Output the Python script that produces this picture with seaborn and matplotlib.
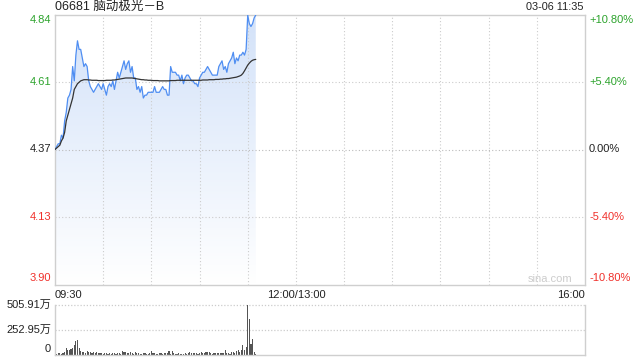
import numpy as np
import pandas as pd
import matplotlib
matplotlib.use("Agg")
import matplotlib.pyplot as plt
from matplotlib.colors import LinearSegmentedColormap
import seaborn as sns

# ---------------- data ----------------
title = "06681 脑动极光－B"
stamp = "03-06 11:35"
base_price = 4.37
left_labels = ["4.84", "4.61", "4.37", "4.13", "3.90"]
right_labels = ["+10.80%", "+5.40%", "0.00%", "-5.40%", "-10.80%"]
pct_levels = [10.8, 5.4, 0.0, -5.4, -10.8]
time_labels = ["09:30", "12:00/13:00", "16:00"]
time_label_minutes = [0, 150, 330]
vol_labels = ["505.91万", "252.95万", "0"]
vol_levels = [505.91, 252.95, 0]

price = [
    4.37, 4.38, 4.39, 4.39, 4.42, 4.41, 4.47, 4.50, 4.55, 4.56,
    4.58, 4.66, 4.61, 4.70, 4.75, 4.72, 4.72, 4.69, 4.66, 4.67,
    4.66, 4.61, 4.59, 4.58, 4.57, 4.58, 4.59, 4.60, 4.59, 4.58,
    4.60, 4.58, 4.56, 4.59, 4.60, 4.59, 4.61, 4.58, 4.61, 4.64,
    4.62, 4.64, 4.66, 4.68, 4.65, 4.67, 4.68, 4.64, 4.66, 4.62,
    4.62, 4.58, 4.59, 4.57, 4.59, 4.55, 4.56, 4.56, 4.57, 4.57,
    4.57, 4.57, 4.59, 4.57, 4.57, 4.57, 4.58, 4.59, 4.58, 4.58,
    4.56, 4.56, 4.66, 4.64, 4.64, 4.64, 4.63, 4.63, 4.61, 4.63,
    4.60, 4.62, 4.63, 4.63, 4.62, 4.61, 4.61, 4.60, 4.60, 4.59,
    4.62, 4.63, 4.64, 4.64, 4.65, 4.66, 4.65, 4.64, 4.63, 4.63,
    4.63, 4.63, 4.66, 4.67, 4.68, 4.65, 4.66, 4.64, 4.67, 4.68,
    4.69, 4.71, 4.67, 4.69, 4.68, 4.70, 4.70, 4.71, 4.70, 4.72,
    4.84, 4.81, 4.80, 4.81, 4.83, 4.84,
]

avg_price = [
    4.370, 4.375, 4.380, 4.385, 4.400, 4.410, 4.430, 4.470, 4.490, 4.510,
    4.530, 4.550, 4.580, 4.590, 4.600, 4.605, 4.610, 4.612, 4.614, 4.614,
    4.614, 4.613, 4.613, 4.612, 4.612, 4.612, 4.612, 4.611, 4.611, 4.611,
    4.611, 4.611, 4.612, 4.612, 4.612, 4.612, 4.613, 4.613, 4.614, 4.615,
    4.616, 4.617, 4.618, 4.619, 4.620, 4.620, 4.620, 4.620, 4.620, 4.619,
    4.618, 4.617, 4.616, 4.615, 4.614, 4.614, 4.613, 4.613, 4.612, 4.612,
    4.612, 4.611, 4.611, 4.611, 4.611, 4.610, 4.610, 4.610, 4.610, 4.610,
    4.610, 4.610, 4.611, 4.611, 4.611, 4.611, 4.612, 4.612, 4.612, 4.612,
    4.612, 4.612, 4.612, 4.612, 4.612, 4.612, 4.612, 4.612, 4.612, 4.612,
    4.612, 4.612, 4.613, 4.613, 4.613, 4.613, 4.614, 4.614, 4.614, 4.614,
    4.615, 4.615, 4.615, 4.616, 4.616, 4.617, 4.617, 4.618, 4.618, 4.619,
    4.620, 4.621, 4.622, 4.623, 4.625, 4.627, 4.630, 4.636, 4.645, 4.655,
    4.665, 4.672, 4.678, 4.682, 4.684, 4.685,
]

volume = [
    15, 10, 12, 15, 8, 20, 25, 65, 45, 50,
    60, 70, 95, 140, 145, 70, 40, 30, 25, 20,
    35, 25, 30, 20, 25, 18, 22, 15, 12, 18,
    10, 14, 12, 8, 15, 10, 12, 20, 10, 12,
    15, 10, 40, 25, 30, 12, 20, 28, 15, 10,
    30, 12, 15, 10, 8, 20, 12, 10, 8, 15,
    40, 12, 20, 8, 10, 12, 15, 10, 12, 20,
    12, 40, 8, 40, 20, 8, 10, 12, 10, 8,
    10, 12, 8, 15, 25, 12, 20, 18, 15, 10,
    12, 25, 12, 20, 24, 22, 24, 15, 10, 12,
    20, 12, 15, 18, 12, 20, 41, 15, 12, 10,
    25, 30, 20, 31, 41, 25, 46, 100, 45, 75,
    505.91, 361, 110, 162, 30, 10,
]

minutes = list(range(len(price)))

# ---------------- style ----------------
sns.set_style("white")
plt.rcParams["font.family"] = ["Liberation Sans", "Noto Sans CJK SC", "DejaVu Sans"]

GREEN = "#2ca32c"
RED = "#f0302b"
DARK = "#222222"
GRID = "#cccccc"
SPINE = "#cfcfcf"
BLUE = "#4f8ef2"
FS = 8

ymin = base_price * (1 - 0.108)
ymax = base_price * (1 + 0.108)
levels = [base_price * (1 + p / 100) for p in pct_levels]

fig = plt.figure(figsize=(6.4, 3.6), dpi=100)
ax = fig.add_axes([55 / 640, 1 - 284.5 / 360, 530 / 640, 270 / 360])
axv = fig.add_axes([55 / 640, 1 - 354.5 / 360, 530 / 640, 49.5 / 360])

df = pd.DataFrame({"minute": minutes, "price": price, "avg": avg_price, "vol": volume})

# ---- price panel ----
ax.set_xlim(0, 330)
ax.set_ylim(ymin, ymax)

# gradient fill under the price line
poly = ax.fill_between(df["minute"], df["price"], ymin, color="none", linewidth=0)
cmap = LinearSegmentedColormap.from_list("g", ["#ffffff", "#d3e2f9"])
grad = np.linspace(0, 1, 256).reshape(-1, 1)
img = ax.imshow(grad, extent=[0, max(minutes), ymin, ymax], origin="lower",
                aspect="auto", cmap=cmap, zorder=1)
img.set_clip_path(poly.get_paths()[0], transform=ax.transData)
ax.set_xlim(0, 330)
ax.set_ylim(ymin, ymax)

# grid
for m in range(30, 330, 30):
    ax.axvline(m, color=GRID, lw=0.8, ls=(0, (1, 2)), zorder=2)
for lv in levels[1:4]:
    ax.axhline(lv, color=GRID if lv != base_price else "#bbbbbb", lw=0.8,
               ls=(0, (1, 2)), zorder=2)

sns.lineplot(data=df, x="minute", y="price", ax=ax, color=BLUE, lw=0.9, zorder=4)
sns.lineplot(data=df, x="minute", y="avg", ax=ax, color="#333333", lw=0.9, zorder=5)

ax.set_xlabel("")
ax.set_ylabel("")
ax.set_xticks([])
ax.set_yticks([])
for s in ax.spines.values():
    s.set_color(SPINE)
    s.set_linewidth(1.0)

# y labels
lab_colors = [GREEN, GREEN, DARK, RED, RED]
yt = ax.get_yaxis_transform()
for i, (lv, lt, rt, c) in enumerate(zip(levels, left_labels, right_labels, lab_colors)):
    off = 0
    if i == 0:
        off = -5.5
    elif i == 4:
        off = 6.5
    ax.annotate(lt, xy=(0, lv), xycoords=yt, xytext=(-4, off), textcoords="offset pixels",
                ha="right", va="center", fontsize=FS, color=c)
    ax.annotate(rt, xy=(1, lv), xycoords=yt, xytext=(4, off), textcoords="offset pixels",
                ha="left", va="center", fontsize=FS, color=c)

# x labels
xt = ax.get_xaxis_transform()
for m, t, ha in zip(time_label_minutes, time_labels, ["left", "center", "right"]):
    ax.annotate(t, xy=(m, 0), xycoords=xt, xytext=(0, -11), textcoords="offset pixels",
                ha=ha, va="center", fontsize=FS, color=DARK)

# title and stamp
fig.text(55 / 640, 1 - 7 / 360, title, ha="left", va="center", fontsize=9, color=DARK)
fig.text(584 / 640, 1 - 7 / 360, stamp, ha="right", va="center", fontsize=7.8, color=DARK)
ax.text(0.977, 0.022, "sina.com", transform=ax.transAxes, ha="right", va="center",
        fontsize=8, color="#cccccc")

# ---- volume panel ----
sns.barplot(data=df, x="minute", y="vol", ax=axv, native_scale=True, color="#555555",
            saturation=1, width=0.7, linewidth=0, errorbar=None)
axv.set_xlim(0, 330)
axv.set_ylim(0, 505.91)
axv.set_xlabel("")
axv.set_ylabel("")
axv.set_xticks([])
axv.set_yticks([])
axv.axhline(252.95, color=GRID, lw=0.9, ls=(0, (1, 1.5)), zorder=0)
axv.axhline(505.91, color=GRID, lw=0.9, ls=(0, (1, 1.5)), zorder=0, clip_on=False)
axv.spines["top"].set_visible(False)
for k in ["left", "right", "bottom"]:
    axv.spines[k].set_color(SPINE)
    axv.spines[k].set_linewidth(1.0)

yv = axv.get_yaxis_transform()
for lv, lt in zip(vol_levels, vol_labels):
    off = 5 if lv == 0 else 0
    axv.annotate(lt, xy=(0, lv), xycoords=yv, xytext=(-4, off), textcoords="offset pixels",
                 ha="right", va="center", fontsize=FS, color=DARK)

fig.savefig("out.png", dpi=100, facecolor="white")
